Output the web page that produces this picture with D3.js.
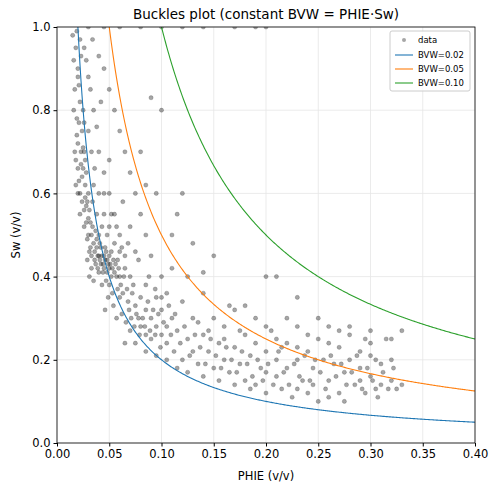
<!DOCTYPE html>
<html><head><meta charset="utf-8">
<script src="https://cdn.jsdelivr.net/npm/d3@7"></script>
<style>body{margin:0;background:#fff}text{font-family:"DejaVu Sans",sans-serif}</style>
</head><body><svg id="c" width="498" height="492"></svg>
<script>
const xTicks=[0,0.05,0.1,0.15,0.2,0.25,0.3,0.35,0.4];
const yTicks=[0,0.2,0.4,0.6,0.8,1.0];
const bvwValues=[0.02,0.05,0.10];
const bvwColors=["#1f77b4","#ff7f0e","#2ca02c"];
// estimated sample points [PHIE, Sw]
const points=[
[0.015,0.98],[0.018,0.95],[0.02,0.9],[0.017,0.85],[0.022,0.82],[0.019,0.78],[0.024,0.75],[0.02,0.72],[0.023,0.7],[0.018,0.68],
[0.025,0.66],[0.021,0.63],[0.027,0.62],[0.02,0.6],[0.024,0.58],[0.028,0.57],[0.022,0.55],[0.03,0.54],[0.026,0.52],[0.033,0.5],
[0.029,0.49],[0.035,0.48],[0.031,0.46],[0.038,0.47],[0.04,0.45],[0.036,0.44],[0.042,0.43],[0.045,0.45],[0.048,0.44],[0.05,0.42],
[0.044,0.41],[0.052,0.4],[0.047,0.39],[0.055,0.41],[0.05,0.38],[0.058,0.37],[0.053,0.36],[0.06,0.35],[0.04,0.5],[0.043,0.52],
[0.038,0.55],[0.034,0.58],[0.03,0.6],[0.028,0.65],[0.026,0.7],[0.03,0.75],[0.025,0.8],[0.02,0.88],[0.016,0.92],[0.022,0.97],
[0.028,0.92],[0.032,0.85],[0.035,0.8],[0.04,0.7],[0.045,0.65],[0.05,0.6],[0.055,0.55],[0.06,0.5],[0.065,0.45],[0.07,0.4],
[0.019,0.99],[0.023,0.93],[0.021,0.86],[0.026,0.77],[0.019,0.74],[0.023,0.67],[0.027,0.59],[0.032,0.53],[0.037,0.51],[0.041,0.48],
[0.046,0.47],[0.039,0.42],[0.043,0.38],[0.049,0.35],[0.054,0.33],[0.046,0.32],[0.057,0.3],[0.062,0.31],[0.066,0.29],[0.07,0.27],
[0.035,0.39],[0.033,0.42],[0.031,0.4],[0.029,0.44],[0.045,0.55],[0.05,0.52],[0.055,0.48],[0.06,0.46],[0.065,0.42],[0.058,0.44],
[0.072,0.36],[0.075,0.33],[0.078,0.3],[0.08,0.28],[0.085,0.26],[0.09,0.25],[0.068,0.34],[0.073,0.38],[0.08,0.35],[0.085,0.32],
[0.09,0.3],[0.095,0.28],[0.1,0.26],[0.1,0.32],[0.105,0.24],[0.11,0.3],[0.112,0.22],[0.115,0.27],[0.12,0.2],[0.12,0.34],
[0.125,0.25],[0.13,0.22],[0.13,0.3],[0.135,0.19],[0.14,0.26],[0.14,0.36],[0.145,0.22],[0.15,0.18],[0.15,0.3],[0.155,0.24],
[0.16,0.2],[0.16,0.28],[0.165,0.17],[0.17,0.23],[0.17,0.32],[0.175,0.19],[0.18,0.15],[0.18,0.26],[0.185,0.21],[0.19,0.14],
[0.19,0.3],[0.195,0.18],[0.2,0.12],[0.2,0.22],[0.205,0.27],[0.21,0.16],[0.21,0.2],[0.215,0.13],[0.22,0.24],[0.22,0.18],
[0.225,0.11],[0.23,0.2],[0.23,0.28],[0.235,0.15],[0.24,0.22],[0.24,0.12],[0.245,0.18],[0.25,0.25],[0.25,0.1],[0.255,0.2],
[0.26,0.15],[0.26,0.28],[0.265,0.19],[0.27,0.12],[0.27,0.23],[0.275,0.17],[0.28,0.2],[0.28,0.26],[0.285,0.14],[0.29,0.18],
[0.29,0.22],[0.295,0.12],[0.3,0.16],[0.3,0.24],[0.305,0.13],[0.31,0.19],[0.31,0.14],[0.315,0.25],[0.32,0.15],[0.32,0.2],
[0.325,0.13],[0.33,0.14],[0.33,0.27],[0.095,0.35],[0.1,0.4],[0.105,0.36],[0.11,0.42],[0.09,0.45],[0.085,0.5],[0.08,0.55],
[0.075,0.6],[0.07,0.65],[0.065,0.7],[0.06,0.75],[0.055,0.8],[0.05,0.85],[0.045,0.9],[0.04,0.93],[0.09,0.83],[0.1,0.8],
[0.08,0.7],[0.12,0.6],[0.11,0.5],[0.13,0.48],[0.15,0.45],[0.2,0.4],[0.21,0.4],[0.23,0.35],[0.18,0.33],[0.25,0.3],
[0.28,0.28],[0.3,0.27],[0.32,0.25],[0.125,0.4],[0.14,0.41],[0.115,0.55],[0.095,0.6],[0.085,0.62],[0.07,0.52],[0.075,0.46],
[0.03,1.0],[0.045,1.0],[0.06,1.0],[0.08,1.0],[0.1,1.0],[0.12,1.0],[0.14,1.0],[0.17,1.0],[0.19,1.0],[0.2,1.0],
[0.065,0.24],[0.075,0.24],[0.085,0.22],[0.095,0.21],[0.105,0.2],[0.115,0.18],[0.125,0.17],[0.14,0.16],[0.155,0.15],[0.17,0.14],
[0.185,0.13],[0.2,0.17],[0.215,0.23],[0.23,0.13],[0.245,0.14],[0.26,0.11],[0.275,0.1],[0.29,0.15],[0.305,0.2],[0.22,0.3],
[0.16,0.25],[0.165,0.33],[0.135,0.29],[0.145,0.27],[0.175,0.27],[0.19,0.24],[0.105,0.28],[0.085,0.38],[0.06,0.4],[0.035,0.62],
[0.016,0.8],[0.017,0.7],[0.018,0.62],[0.02,0.66],[0.021,0.77],[0.022,0.6],[0.024,0.64],[0.025,0.71],[0.026,0.56],[0.027,0.68],
[0.028,0.53],[0.029,0.58],[0.03,0.5],[0.031,0.56],[0.032,0.47],[0.033,0.45],[0.034,0.52],[0.036,0.46],[0.037,0.43],[0.038,0.49],
[0.039,0.45],[0.04,0.41],[0.041,0.44],[0.042,0.47],[0.043,0.45],[0.044,0.43],[0.045,0.42],[0.046,0.44],[0.047,0.46],[0.048,0.41],
[0.049,0.43],[0.05,0.45],[0.051,0.43],[0.052,0.46],[0.053,0.42],[0.054,0.44],[0.056,0.43],[0.057,0.4],[0.059,0.42],[0.061,0.38],
[0.063,0.36],[0.064,0.4],[0.067,0.37],[0.069,0.32],[0.071,0.3],[0.074,0.28],[0.076,0.31],[0.079,0.26],[0.082,0.3],[0.084,0.28],
[0.087,0.34],[0.089,0.27],[0.092,0.32],[0.094,0.26],[0.097,0.31],[0.099,0.23],[0.102,0.29],[0.107,0.33],[0.109,0.26],[0.113,0.31],
[0.118,0.24],[0.122,0.28],[0.127,0.21],[0.132,0.26],[0.137,0.23],[0.142,0.19],[0.147,0.25],[0.152,0.21],[0.157,0.18],[0.162,0.23],
[0.167,0.2],[0.172,0.17],[0.177,0.22],[0.182,0.19],[0.187,0.16],[0.192,0.2],[0.197,0.15],[0.202,0.19],[0.207,0.14],[0.212,0.22],
[0.217,0.17],[0.222,0.14],[0.227,0.19],[0.232,0.16],[0.237,0.21],[0.242,0.15],[0.247,0.2],[0.252,0.17],[0.257,0.13],[0.262,0.21],
[0.267,0.16],[0.272,0.19],[0.277,0.14],[0.282,0.17],[0.287,0.21],[0.292,0.13],[0.297,0.18],[0.302,0.15],[0.307,0.11],[0.312,0.17],
[0.317,0.13],[0.322,0.18],[0.3,0.21],[0.295,0.25],[0.27,0.27],[0.26,0.24],[0.24,0.26],[0.23,0.23],[0.21,0.25],[0.2,0.28],
[0.045,0.6],[0.048,0.5],[0.052,0.55],[0.057,0.52],[0.062,0.47],[0.036,0.66],[0.04,0.6],[0.033,0.7],[0.038,0.76],[0.042,0.82],
[0.03,0.88],[0.026,0.95],[0.034,0.97],[0.05,0.68],[0.063,0.58],[0.068,0.48],[0.078,0.44],[0.088,0.4],[0.094,0.37],[0.1,0.35]
];
const W=498,H=492,m={l:57,r:23,t:27,b:49};
const svg=d3.select("#c");
const x=d3.scaleLinear().domain([0,0.4]).range([m.l,W-m.r]);
const y=d3.scaleLinear().domain([0,1]).range([H-m.b,m.t]);
const g=svg.append("g");
g.selectAll(".gx").data(xTicks).join("line").attr("x1",d=>x(d)).attr("x2",d=>x(d)).attr("y1",y(0)).attr("y2",y(1)).attr("stroke","#e6e6e6").attr("stroke-width",0.8);
g.selectAll(".gy").data(yTicks).join("line").attr("y1",d=>y(d)).attr("y2",d=>y(d)).attr("x1",x(0)).attr("x2",x(0.4)).attr("stroke","#e6e6e6").attr("stroke-width",0.8);
svg.append("defs").append("clipPath").attr("id","cp").append("rect").attr("x",m.l).attr("y",m.t).attr("width",W-m.l-m.r).attr("height",H-m.t-m.b);
const pg=svg.append("g").attr("clip-path","url(#cp)");
pg.selectAll("circle").data(points).join("circle").attr("cx",d=>x(d[0])).attr("cy",d=>y(d[1])).attr("r",2.1).attr("fill","#000").attr("fill-opacity",0.35).attr("stroke","#000").attr("stroke-opacity",0.35).attr("stroke-width",0.5);
const phis=d3.range(0.001,0.4005,0.001);
bvwValues.forEach((b,i)=>{
  const pts=phis.filter(p=>b/p<=1.05).map(p=>[p,b/p]);
  pg.append("path").datum(pts).attr("d",d3.line().x(d=>x(d[0])).y(d=>y(d[1]))).attr("fill","none").attr("stroke",bvwColors[i]).attr("stroke-width",1.1);
});
const fmt=d3.format(".2f");
const ax=svg.append("g").attr("transform",`translate(0,${y(0)})`).call(d3.axisBottom(x).tickValues(xTicks).tickFormat(fmt).tickSize(3.5));
const ay=svg.append("g").attr("transform",`translate(${x(0)},0)`).call(d3.axisLeft(y).tickValues(yTicks).tickFormat(d3.format(".1f")).tickSize(3.5));
[ax,ay].forEach(a=>{a.selectAll("text").attr("font-size",11.5).attr("fill","#000");a.select(".domain").remove();});
svg.append("rect").attr("x",m.l).attr("y",m.t).attr("width",W-m.l-m.r).attr("height",H-m.t-m.b).attr("fill","none").attr("stroke","#000").attr("stroke-width",0.8);
svg.append("text").attr("x",(m.l+W-m.r)/2).attr("y",19).attr("text-anchor","middle").attr("font-size",13.5).text("Buckles plot (constant BVW = PHIE·Sw)");
svg.append("text").attr("x",(m.l+W-m.r)/2).attr("y",480).attr("text-anchor","middle").attr("font-size",11.5).text("PHIE (v/v)");
svg.append("text").attr("transform",`translate(20,${(m.t+H-m.b)/2}) rotate(-90)`).attr("text-anchor","middle").attr("font-size",11.5).text("Sw (v/v)");
const lg=svg.append("g").attr("transform","translate(390,31)");
lg.append("rect").attr("width",80).attr("height",60).attr("rx",2).attr("fill","#fff").attr("fill-opacity",0.8).attr("stroke","#ccc");
lg.append("circle").attr("cx",14).attr("cy",9).attr("r",2).attr("fill","#000").attr("fill-opacity",0.35);
lg.append("text").attr("x",28).attr("y",12).attr("font-size",8.5).text("data");
bvwValues.forEach((b,i)=>{
  const yy=24+i*14;
  lg.append("line").attr("x1",5).attr("x2",23).attr("y1",yy).attr("y2",yy).attr("stroke",bvwColors[i]).attr("stroke-width",1.1);
  lg.append("text").attr("x",28).attr("y",yy+3).attr("font-size",8.5).text("BVW="+fmt(b));
});
</script></body></html>
